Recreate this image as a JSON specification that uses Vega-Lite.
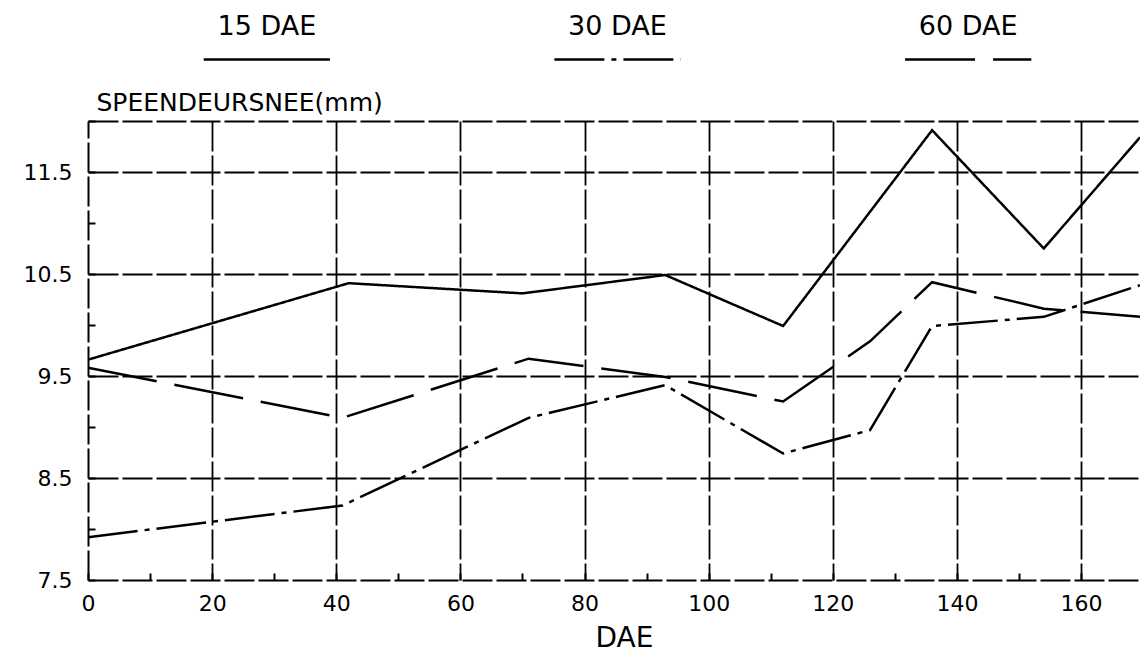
{
  "$schema": "https://vega.github.io/schema/vega-lite/v6.json",
  "padding": {"left": 23, "top": 10, "right": 0, "bottom": 0},
  "bounds": "flush",
  "spacing": 45,
  "config": {
    "view": {"stroke": null},
    "font": "DejaVu Sans",
    "text": {"font": "DejaVu Sans"}
  },
  "data": {
    "values": [
      {"series": "15 DAE", "dae": 0, "diam": 9.66},
      {"series": "15 DAE", "dae": 42, "diam": 10.41},
      {"series": "15 DAE", "dae": 70, "diam": 10.31},
      {"series": "15 DAE", "dae": 93, "diam": 10.49},
      {"series": "15 DAE", "dae": 112, "diam": 9.99},
      {"series": "15 DAE", "dae": 136, "diam": 11.91},
      {"series": "15 DAE", "dae": 154, "diam": 10.75},
      {"series": "15 DAE", "dae": 169.5, "diam": 11.84},
      {"series": "30 DAE", "dae": 0, "diam": 7.92},
      {"series": "30 DAE", "dae": 41, "diam": 8.23},
      {"series": "30 DAE", "dae": 71, "diam": 9.09},
      {"series": "30 DAE", "dae": 93, "diam": 9.41},
      {"series": "30 DAE", "dae": 112, "diam": 8.74},
      {"series": "30 DAE", "dae": 126, "diam": 8.97},
      {"series": "30 DAE", "dae": 136, "diam": 9.99},
      {"series": "30 DAE", "dae": 154, "diam": 10.08},
      {"series": "30 DAE", "dae": 169.5, "diam": 10.39},
      {"series": "60 DAE", "dae": 0, "diam": 9.58},
      {"series": "60 DAE", "dae": 41, "diam": 9.09},
      {"series": "60 DAE", "dae": 71, "diam": 9.67},
      {"series": "60 DAE", "dae": 93, "diam": 9.49},
      {"series": "60 DAE", "dae": 112, "diam": 9.25},
      {"series": "60 DAE", "dae": 126, "diam": 9.84},
      {"series": "60 DAE", "dae": 136, "diam": 10.42},
      {"series": "60 DAE", "dae": 154, "diam": 10.16},
      {"series": "60 DAE", "dae": 169.5, "diam": 10.08}
    ]
  },
  "resolve": {"scale": {"strokeDash": "shared"}},
  "vconcat": [
    {
      "width": 1052,
      "height": 66,
      "transform": [{"aggregate": [], "groupby": ["series"]}],
      "layer": [
        {
          "mark": {"type": "text", "font": "DejaVu Sans", "fontSize": 27, "align": "center", "baseline": "middle", "color": "black"},
          "encoding": {
            "x": {"field": "series", "type": "nominal", "bandPosition": 0.51, "axis": null,
                  "scale": {"type": "band", "paddingInner": 0, "paddingOuter": 0, "domain": ["15 DAE", "30 DAE", "60 DAE"]}},
            "y": {"datum": "label", "type": "nominal", "axis": null,
                  "scale": {"type": "point", "domain": ["label", "line"], "padding": 0.5}},
            "text": {"field": "series"}
          }
        },
        {
          "mark": {"type": "rule", "color": "black", "strokeWidth": 2.5},
          "encoding": {
            "x": {"field": "series", "type": "nominal", "bandPosition": 0.33, "axis": null},
            "x2": {"field": "series", "bandPosition": 0.69},
            "y": {"datum": "line", "type": "nominal", "axis": null},
            "strokeDash": {"field": "series", "type": "nominal", "legend": null}
          }
        }
      ]
    },
    {
      "width": 1052,
      "height": 459,
      "mark": {"type": "line", "color": "black", "strokeWidth": 2.5, "clip": true},
      "encoding": {
        "x": {
          "field": "dae", "type": "quantitative",
          "scale": {"domain": [0, 169.5], "nice": false, "zero": false},
          "axis": {
            "values": [0, 10, 20, 30, 40, 50, 60, 70, 80, 90, 100, 110, 120, 130, 140, 150, 160],
            "labelExpr": "datum.value % 20 == 0 ? datum.label : ''",
            "labelFont": "DejaVu Sans", "labelFontSize": 22, "labelColor": "black", "labelPadding": 20,
            "labelFlush": false, "labelOverlap": false,
            "tickSize": -7, "tickColor": "black", "tickWidth": 2,
            "domain": true, "domainColor": "black", "domainWidth": 2, "domainDash": [30, 4],
            "grid": true, "gridColor": "black", "gridWidth": 1.8, "gridDash": [30, 4],
            "gridOpacity": {"condition": {"test": "datum.value % 20 != 0 || datum.value == 0", "value": 0}, "value": 1},
            "title": "DAE", "titleFont": "DejaVu Sans", "titleFontSize": 28, "titleFontWeight": "normal",
            "titleColor": "black", "titleX": 536, "titleY": 58, "titleAlign": "center", "titleBaseline": "middle"
          }
        },
        "y": {
          "field": "diam", "type": "quantitative",
          "scale": {"domain": [7.5, 12], "nice": false, "zero": false},
          "axis": {
            "values": [7.5, 8, 8.5, 9, 9.5, 10, 10.5, 11, 11.5, 12],
            "format": ".1f",
            "labelExpr": "datum.value % 1 != 0 ? datum.label : ''",
            "labelFont": "DejaVu Sans", "labelFontSize": 22, "labelColor": "black", "labelPadding": 23,
            "labelFlush": false, "labelOverlap": false,
            "tickSize": -7, "tickColor": "black", "tickWidth": 2,
            "domain": true, "domainColor": "black", "domainWidth": 2, "domainDash": [30, 4],
            "grid": true, "gridColor": "black", "gridWidth": 1.8, "gridDash": [30, 4],
            "gridOpacity": {"condition": {"test": "(datum.value % 1 == 0 && datum.value != 12) || datum.value == 7.5", "value": 0}, "value": 1},
            "title": "SPEENDEURSNEE(mm)", "titleFont": "DejaVu Sans", "titleFontSize": 25, "titleFontWeight": "normal",
            "titleColor": "black", "titleAngle": 0, "titleAlign": "left", "titleBaseline": "alphabetic",
            "titleX": 8, "titleY": -11
          }
        },
        "strokeDash": {
          "field": "series", "type": "nominal",
          "scale": {"domain": ["15 DAE", "30 DAE", "60 DAE"], "range": [[1, 0], [50, 7, 5, 7], [70, 18]]},
          "legend": null
        }
      }
    }
  ]
}
